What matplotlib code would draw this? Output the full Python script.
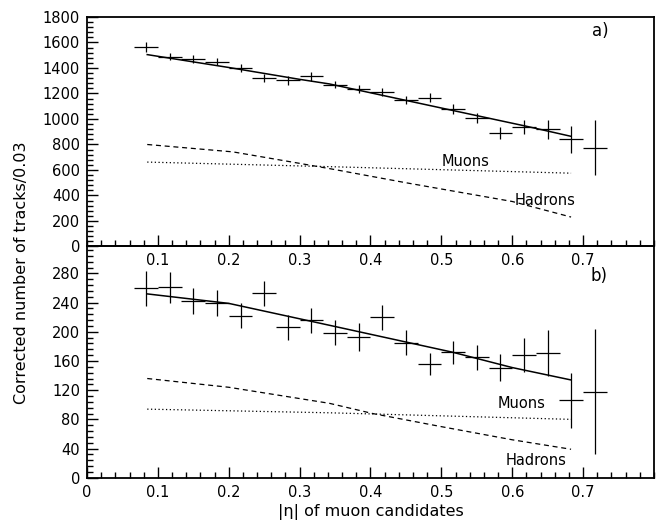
import numpy as np
import matplotlib
matplotlib.use('Agg')
import matplotlib.pyplot as plt
from matplotlib.ticker import MultipleLocator, AutoMinorLocator

# bin centres in |eta| (bin width 1/30)
eta = [0.0833, 0.1167, 0.15, 0.1833, 0.2167, 0.25, 0.2833, 0.3167, 0.35, 0.3833,
       0.4167, 0.45, 0.4833, 0.5167, 0.55, 0.5833, 0.6167, 0.65, 0.6833, 0.7167]
half_bin = 0.0167

# panel a)
a_counts = [1565, 1490, 1470, 1450, 1400, 1320, 1305, 1335, 1270, 1235,
            1210, 1150, 1165, 1080, 1010, 890, 940, 920, 840, 775]
a_err = [40, 30, 30, 30, 30, 30, 35, 35, 30, 30,
         30, 30, 35, 40, 40, 45, 55, 75, 105, 215]
a_fit_x = [0.085, 0.2, 0.3, 0.342, 0.516, 0.62, 0.683]
a_fit_y = [1505, 1404, 1311, 1275, 1067, 943, 864]
a_had_x = [0.085, 0.206, 0.3, 0.348, 0.45, 0.6, 0.683]
a_had_y = [800, 742, 652, 605, 500, 353, 231]
a_muon_x = [0.085, 0.35, 0.683]
a_muon_y = [662, 625, 575]

# panel b)
b_counts = [260, 261, 242, 240, 222, 253, 206, 216, 199, 193,
            220, 185, 156, 172, 165, 151, 168, 171, 106, 118]
b_err = [24, 21, 18, 18, 17, 17, 17, 17, 17, 19,
         17, 17, 15, 16, 17, 18, 23, 32, 38, 86]
b_fit_x = [0.085, 0.2, 0.342, 0.516, 0.6, 0.683]
b_fit_y = [252, 239, 209, 172, 151, 134]
b_had_x = [0.085, 0.2, 0.342, 0.403, 0.5, 0.6, 0.683]
b_had_y = [136, 124, 102, 88, 70, 52, 39]
b_muon_x = [0.085, 0.342, 0.683]
b_muon_y = [94, 89, 80]

plt.rcParams['font.family'] = 'DejaVu Sans'
plt.rcParams['font.size'] = 10.5

fig = plt.figure(figsize=(6.58, 5.23), dpi=100)
ax_a = fig.add_axes([0.1322, 0.5287, 0.8617, 0.4388])
ax_b = fig.add_axes([0.1322, 0.0866, 0.8617, 0.4421])


def style(ax, ymax, ymajor, yminor_n):
    ax.set_xlim(0, 0.8)
    ax.set_ylim(0, ymax)
    ax.xaxis.set_major_locator(MultipleLocator(0.1))
    ax.xaxis.set_minor_locator(AutoMinorLocator(5))
    ax.yaxis.set_major_locator(MultipleLocator(ymajor))
    ax.yaxis.set_minor_locator(AutoMinorLocator(yminor_n))
    ax.tick_params(which='both', direction='in', top=False, right=False,
                   width=1, pad=5)
    ax.tick_params(which='major', length=8)
    ax.tick_params(which='minor', length=4)
    for sp in ax.spines.values():
        sp.set_linewidth(1.3)


for ax, counts, err, fx, fy, hx, hy, mx, my in [
        (ax_a, a_counts, a_err, a_fit_x, a_fit_y, a_had_x, a_had_y, a_muon_x, a_muon_y),
        (ax_b, b_counts, b_err, b_fit_x, b_fit_y, b_had_x, b_had_y, b_muon_x, b_muon_y)]:
    ax.errorbar(eta, counts, xerr=half_bin, yerr=err, fmt='none',
                ecolor='black', elinewidth=0.9, capsize=0)
    ax.plot(fx, fy, color='black', lw=1.1)
    ax.plot(hx, hy, color='black', lw=0.9, ls=(0, (4, 3)))
    ax.plot(mx, my, color='black', lw=0.9, ls=(0, (1, 2)))

style(ax_a, 1800, 200, 5)
style(ax_b, 317, 40, 5)

ax_a.set_xticks([0.1, 0.2, 0.3, 0.4, 0.5, 0.6, 0.7])
ax_a.set_xticklabels(['0.1', '0.2', '0.3', '0.4', '0.5', '0.6', '0.7'])
ax_b.set_xticks([0, 0.1, 0.2, 0.3, 0.4, 0.5, 0.6, 0.7])
ax_b.set_xticklabels(['0', '0.1', '0.2', '0.3', '0.4', '0.5', '0.6', '0.7'])
ax_b.set_yticks([0, 40, 80, 120, 160, 200, 240, 280])

ax_a.text(0.713, 1650, 'a)', fontsize=12)
ax_a.text(0.50, 665, 'Muons', fontsize=10.5, va='center')
ax_a.text(0.603, 358, 'Hadrons', fontsize=10.5, va='center')
ax_b.text(0.71, 270, 'b)', fontsize=12)
ax_b.text(0.579, 102, 'Muons', fontsize=10.5, va='center')
ax_b.text(0.59, 23, 'Hadrons', fontsize=10.5, va='center')

ax_a.set_zorder(2)
ax_a.patch.set_alpha(0)

fig.text(0.033, 1 - 273 / 523, 'Corrected number of tracks/0.03',
         rotation=90, ha='center', va='center', fontsize=11.5)
ax_b.set_xlabel('|η| of muon candidates', fontsize=11.5, labelpad=3)

fig.savefig('out.png', dpi=100)
